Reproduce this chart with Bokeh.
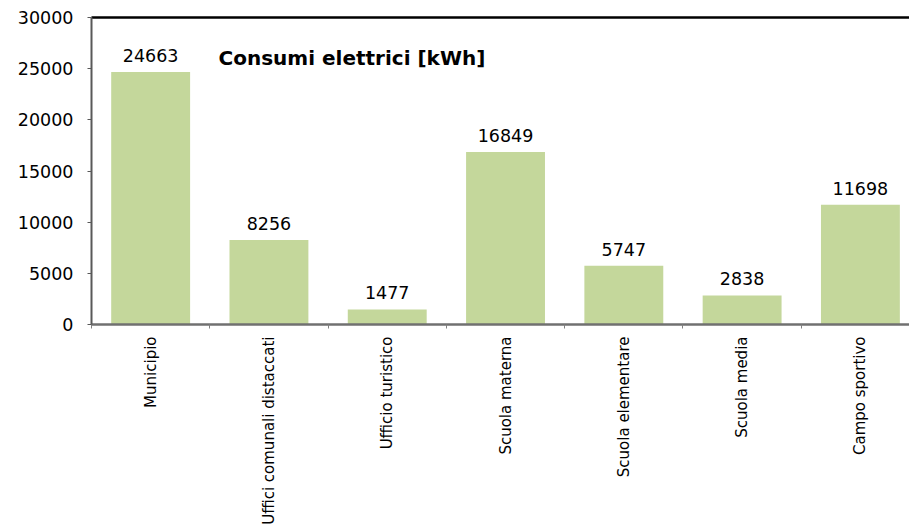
import math
from bokeh.plotting import figure
from bokeh.models import ColumnDataSource, Range1d, FixedTicker, LinearAxis, Label
from bokeh.core.properties import value
from bokeh.embed import file_html
from bokeh.resources import INLINE

categories = ["Municipio", "Uffici comunali distaccati", "Ufficio turistico",
              "Scuola materna", "Scuola elementare", "Scuola media", "Campo sportivo"]
consumi = [24663, 8256, 1477, 16849, 5747, 2838, 11698]
y_ticks = [0, 5000, 10000, 15000, 20000, 25000, 30000]
title_text = "Consumi elettrici [kWh]"

FONT = "DejaVu Sans"
pos = list(range(len(categories)))
src = ColumnDataSource(dict(x=pos, y=consumi, lbl=[str(v) for v in consumi]))

p = figure(width=909, height=531, output_backend="svg", toolbar_location=None,
           x_range=Range1d(-0.5, 6.415), y_range=Range1d(0, 30000),
           min_border_left=91, min_border_right=0, min_border_top=17,
           min_border_bottom=207)
p.outline_line_color = None
p.grid.visible = False
p.background_fill_color = "white"
p.border_fill_color = "white"

p.vbar(x="x", top="y", width=0.667, source=src, fill_color="#C4D79B",
       line_color=None)
p.text(x="x", y="y", text="lbl", source=src, text_align="center",
       text_baseline="bottom", y_offset=-10, text_font=value(FONT),
       text_font_size="17.5px", text_color="black")

# y axis
ya = p.yaxis[0]
ya.ticker = FixedTicker(ticks=y_ticks)
ya.axis_line_color = "#595959"
ya.axis_line_width = 2
ya.major_tick_line_color = "#595959"
ya.major_tick_out = 4
ya.major_tick_in = 0
ya.minor_tick_line_color = None
ya.major_label_standoff = 14
ya.major_label_text_font = FONT
ya.major_label_text_font_size = "17.5px"
ya.major_label_text_color = "black"

# x axis
xa = p.xaxis[0]
xa.ticker = FixedTicker(ticks=pos, minor_ticks=[i - 0.5 for i in range(len(categories) + 1)])
xa.major_label_overrides = {i: c for i, c in enumerate(categories)}
xa.major_label_orientation = math.pi / 2
xa.axis_line_color = "#707070"
xa.axis_line_width = 2.5
xa.major_tick_line_color = None
xa.major_tick_out = 0
xa.major_tick_in = 0
xa.minor_tick_line_color = "#808080"
xa.minor_tick_out = 4
xa.minor_tick_in = 0
xa.major_label_standoff = 8
xa.major_label_text_font = FONT
xa.major_label_text_font_size = "15px"
xa.major_label_text_color = "black"

# top border line
top = LinearAxis(ticker=FixedTicker(ticks=[]), axis_line_color="black",
                 axis_line_width=2.5, major_tick_line_color=None,
                 minor_tick_line_color=None, major_label_text_font_size="0px")
p.add_layout(top, "above")

p.add_layout(Label(x=127, y=267, x_units="screen", y_units="screen",
                   text=title_text, text_font=FONT, text_font_size="20px",
                   text_font_style="bold", text_baseline="alphabetic",
                   text_color="black"))

open("out.html", "w").write(file_html(p, INLINE))
